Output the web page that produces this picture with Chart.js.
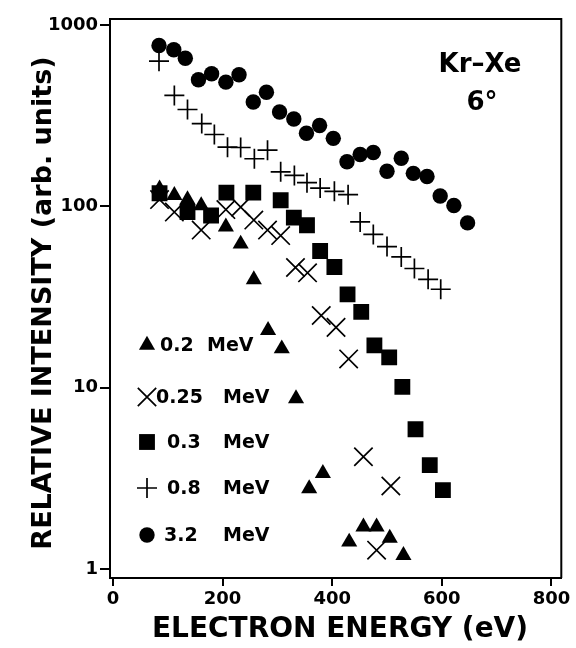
<!DOCTYPE html>
<html>
<head>
<meta charset="utf-8">
<script src="https://cdn.jsdelivr.net/npm/chart.js@4/dist/chart.umd.min.js"></script>
<style>
  body { margin: 0; background: #fff; }
</style>
</head>
<body>
<canvas id="myChart" width="576" height="648"></canvas>
<script>
// tick labels
const xTicks = [0, 200, 400, 600, 800];
const yTicks = [1, 10, 100, 1000];

// 0.2 MeV (triangles)
const e02 = [85, 112, 136, 161, 206, 233, 257, 283, 308, 334, 358, 383, 431, 457, 481, 505, 530];
const v02 = [125, 115, 109, 101, 77, 62, 39.5, 20.7, 16.4, 8.7, 2.78, 3.37, 1.41, 1.71, 1.71, 1.48, 1.19];

// 0.25 MeV (x)
const e025 = [85, 112, 161, 206, 233, 257, 282, 306, 333, 355, 380, 407, 430, 457, 481, 507];
const v025 = [109, 93, 74, 96, 99, 84, 74, 69, 46, 43, 25, 21.5, 14.4, 4.16, 1.27, 2.87];

// 0.3 MeV (squares)
const e03 = [85, 136, 179, 207, 256, 306, 330, 354, 378, 404, 428, 453, 477, 504, 528, 552, 578, 602];
const v03 = [118, 93, 89, 119, 119, 108, 86.6, 78.6, 56.7, 46.3, 32.7, 26.2, 17.1, 14.7, 10.1, 5.9, 3.74, 2.72];

// 0.8 MeV (+)
const e08 = [84, 112, 136, 162, 185, 209, 233, 258, 282, 306, 331, 354, 378, 404, 429, 451, 475, 500, 526, 550, 575, 598];
const v08 = [632, 409, 342, 286, 249, 212, 211, 183, 204, 155, 148, 135, 126, 121, 116, 82, 70, 60, 52.6, 45.4, 39.6, 34.9];

// 3.2 MeV (circles)
const e32 = [84, 111, 132, 156, 180, 206, 230, 256, 280, 304, 330, 353, 377, 402, 427, 451, 475, 500, 526, 548, 573, 597, 622, 647];
const v32 = [771, 730, 656, 499, 538, 484, 532, 376, 426, 331, 303, 253, 279, 237, 176, 193, 198, 156, 184, 152, 146, 114, 101, 81];

const labels = ['0.2', '0.25', '0.3', '0.8', '3.2'];

function pts(xs, ys) {
    return xs.map((x, i) => ({ x: x, y: ys[i] }));
}

const FONT = '"DejaVu Sans", sans-serif';

const styles = [
    { pointStyle: 'triangle', radius: 9.3, borderWidth: 0 },
    { pointStyle: 'crossRot', radius: 13, borderWidth: 1.7 },
    { pointStyle: 'rect', radius: 11.2, borderWidth: 0 },
    { pointStyle: 'cross', radius: 10, borderWidth: 1.7 },
    { pointStyle: 'circle', radius: 7.7, borderWidth: 0 }
];

const series = [pts(e02, v02), pts(e025, v025), pts(e03, v03), pts(e08, v08), pts(e32, v32)];

const datasets = series.map((d, i) => ({
    label: labels[i] + ' MeV',
    data: d,
    showLine: false,
    pointStyle: styles[i].pointStyle,
    pointRadius: styles[i].radius,
    pointBorderWidth: styles[i].borderWidth,
    pointBackgroundColor: '#000',
    pointBorderColor: '#000'
}));

function marker(ctx, st, x, y) {
    ctx.save();
    ctx.fillStyle = '#000';
    ctx.strokeStyle = '#000';
    ctx.lineWidth = st.borderWidth || 0;
    Chart.helpers.drawPoint(ctx, { pointStyle: st.pointStyle, radius: st.radius, rotation: 0, borderWidth: st.borderWidth }, x, y);
    ctx.restore();
}

const decor = {
    id: 'decor',
    afterDraw(chart) {
        const ctx = chart.ctx;
        const a = chart.chartArea;
        ctx.save();
        // frame top and right
        ctx.strokeStyle = '#000';
        ctx.lineWidth = 2;
        ctx.beginPath();
        ctx.moveTo(a.left, a.top);
        ctx.lineTo(a.right, a.top);
        ctx.lineTo(a.right, a.bottom);
        ctx.stroke();

        ctx.fillStyle = '#000';
        // axis titles
        ctx.font = 'bold 28px ' + FONT;
        ctx.textAlign = 'center';
        ctx.textBaseline = 'middle';
        ctx.fillText('ELECTRON ENERGY (eV)', 340, 630);
        ctx.font = 'bold 27px ' + FONT;
        ctx.save();
        ctx.translate(44, 303);
        ctx.rotate(-Math.PI / 2);
        ctx.fillText('RELATIVE INTENSITY (arb. units)', 0, 0);
        ctx.restore();

        // annotation
        ctx.font = 'bold 26px ' + FONT;
        ctx.fillText('Kr\u2013Xe', 480, 65);
        ctx.fillText('6\u00b0', 482, 103);

        // legend
        const rows = [345, 397, 442, 488, 535];
        const numX = [160, 156, 167, 167, 164];
        const mevX = [207, 223, 223, 223, 223];
        ctx.font = 'bold 19px ' + FONT;
        ctx.textAlign = 'left';
        rows.forEach((y, i) => {
            marker(ctx, styles[i], 147, y);
            ctx.fillText(labels[i], numX[i], y + 1);
            ctx.fillText('MeV', mevX[i], y + 1);
        });
        ctx.restore();
    }
};

new Chart(document.getElementById('myChart').getContext('2d'), {
    type: 'scatter',
    data: { datasets: datasets },
    options: {
        responsive: false,
        animation: false,
        devicePixelRatio: 1,
        layout: { padding: { top: 19, right: 11, left: 0, bottom: 0 } },
        plugins: { legend: { display: false }, tooltip: { enabled: false } },
        scales: {
            x: {
                type: 'linear',
                min: -5.4,
                max: 818,
                afterBuildTicks: s => { s.ticks = xTicks.map(v => ({ value: v })); },
                afterFit: s => { s.height = 70; },
                border: { display: true, color: '#000', width: 2 },
                grid: { display: true, drawOnChartArea: false, drawTicks: true, tickLength: 8, color: '#000', lineWidth: 2 },
                ticks: { color: '#000', padding: 3, maxRotation: 0, font: { family: FONT, weight: 'bold', size: 18 } }
            },
            y: {
                type: 'logarithmic',
                min: 0.892,
                max: 1079,
                afterBuildTicks: s => { s.ticks = yTicks.map(v => ({ value: v })); },
                afterFit: s => { s.width = 110; },
                border: { display: true, color: '#000', width: 2 },
                grid: { display: true, drawOnChartArea: false, drawTicks: true, tickLength: 10, color: '#000', lineWidth: 2 },
                ticks: { color: '#000', padding: 2, font: { family: FONT, weight: 'bold', size: 18 },
                    callback: v => String(v) }
            }
        }
    },
    plugins: [decor]
});
</script>
</body>
</html>
